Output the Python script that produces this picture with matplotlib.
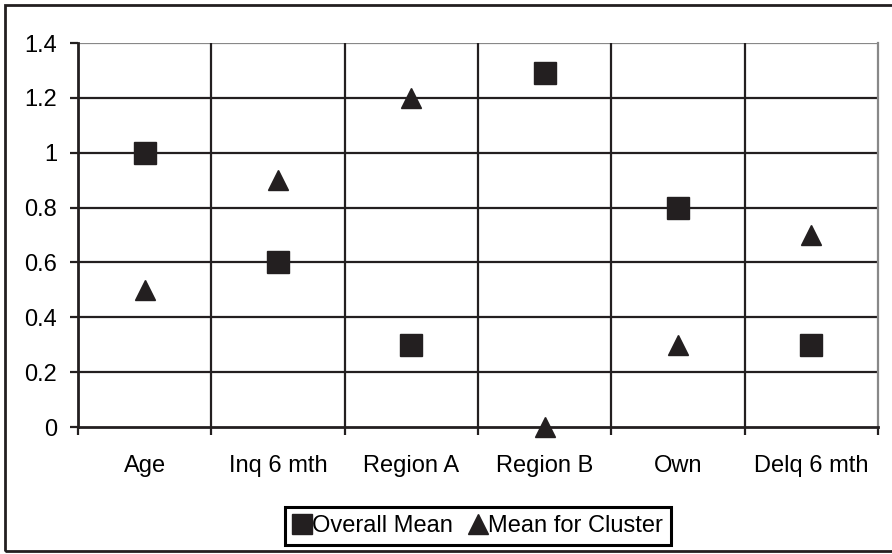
import numpy as np
import matplotlib
matplotlib.use('Agg')
import matplotlib.pyplot as plt
from matplotlib.lines import Line2D
from matplotlib.patches import Rectangle

plt.rcParams['font.family'] = ['Liberation Sans', 'DejaVu Sans']

# 数据
categories = ['Age', 'Inq 6 mth', 'Region A', 'Region B', 'Own', 'Delq 6 mth']
overall_mean = [1.0, 0.6, 0.3, 1.29, 0.8, 0.3]
cluster_mean = [0.5, 0.9, 1.2, 0.0, 0.3, 0.7]
yticks = [0, 0.2, 0.4, 0.6, 0.8, 1.0, 1.2, 1.4]
ytick_labels = ['0', '0.2', '0.4', '0.6', '0.8', '1', '1.2', '1.4']

ink = '#231f20'
fs = 17
W, H = 892, 554
fig = plt.figure(figsize=(W / 100, H / 100), dpi=100)
ax = fig.add_axes([78 / W, (H - 427) / H, 800 / W, 384 / H])

x = np.arange(len(categories))
ax.plot(x, overall_mean, linestyle='none', marker='s', markersize=16,
        color=ink, zorder=3, clip_on=False)
ax.plot(x, cluster_mean, linestyle='none', marker='^', markersize=15,
        color=ink, zorder=3, clip_on=False)

ax.set_xlim(-0.5, len(categories) - 0.5)
ax.set_ylim(0, 1.4)

# 网格线
for yv in yticks[1:-1]:
    ax.axhline(yv, color=ink, lw=1.6, zorder=1)
ax.axhline(1.4, color='#888888', lw=1.6, zorder=1)
for xv in np.arange(0.5, len(categories) - 1, 1.0):
    ax.axvline(xv, color=ink, lw=1.6, zorder=1)

ax.set_yticks(yticks)
ax.set_yticklabels(ytick_labels, fontsize=fs)
ax.set_xticks(x)
ax.set_xticklabels(categories, fontsize=fs)
ax.tick_params(axis='x', length=0, pad=20)
ax.tick_params(axis='y', length=6, width=1.6, color=ink, pad=9, direction='out')

# 类别边界上的刻度
ax.set_xticks(np.arange(-0.5, len(categories), 1.0), minor=True)
ax.tick_params(axis='x', which='minor', length=6, width=1.6, color=ink, direction='out')

ax.spines['top'].set_visible(False)
ax.spines['right'].set_color('#888888')
ax.spines['right'].set_linewidth(1.6)
ax.spines['left'].set_color(ink)
ax.spines['left'].set_linewidth(2)
ax.spines['bottom'].set_color(ink)
ax.spines['bottom'].set_linewidth(2)

handles = [
    Line2D([], [], linestyle='none', marker='s', markersize=15, color=ink),
    Line2D([], [], linestyle='none', marker='^', markersize=15, color=ink),
]
leg = fig.legend(handles, ['Overall Mean', 'Mean for Cluster'], ncol=2,
                 loc='center', bbox_to_anchor=(478 / W, 1 - 526 / H),
                 fontsize=fs, frameon=True, fancybox=False, edgecolor='black',
                 handlelength=0.75, handletextpad=0.05, columnspacing=0.7,
                 borderpad=0.35, borderaxespad=0, framealpha=1)
leg.get_frame().set_linewidth(2.2)

# 外框
fig.patches.append(Rectangle((5 / W, 3 / H), 1.0, 1 - 8 / H, transform=fig.transFigure,
                             fill=False, edgecolor=ink, lw=2, clip_on=False))

fig.savefig('out.png', dpi=100)
